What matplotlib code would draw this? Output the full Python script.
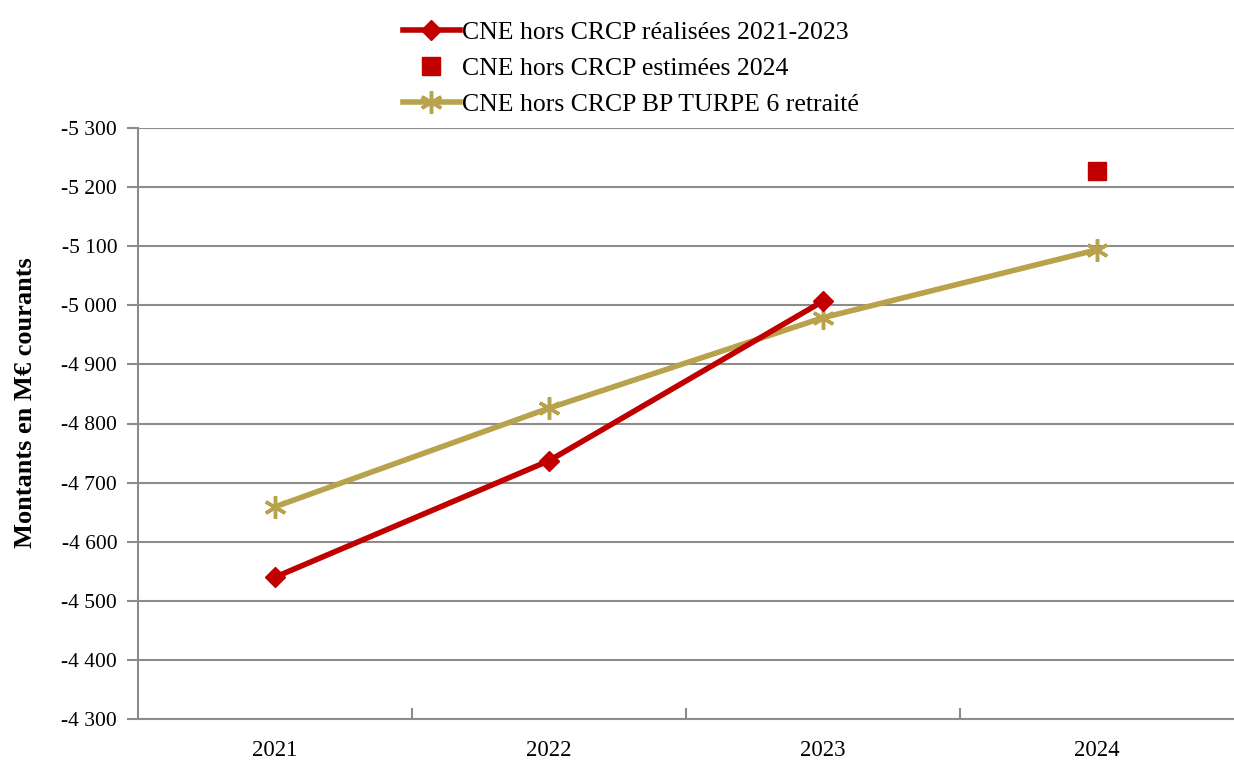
import matplotlib.pyplot as plt
from matplotlib.ticker import FuncFormatter, FixedLocator

# donnees
annees = ['2021', '2022', '2023', '2024']
realisees = [-4540, -4737, -5007]          # 2021-2023
estimee_2024 = [-5227]
bp_turpe = [-4659, -4826, -4979, -5094]
yticks = [-5300, -5200, -5100, -5000, -4900, -4800, -4700, -4600, -4500, -4400, -4300]

rouge = '#C00000'
or_ = '#B9A24C'

plt.rcParams['font.family'] = ['Liberation Serif', 'DejaVu Serif']

fig = plt.figure(figsize=(12.34, 7.6), dpi=100)
ax = fig.add_axes([138/1234, 1-719/760, 1-138/1234, (719-128)/760])

x = list(range(len(annees)))

# grille horizontale
for v in yticks:
    ax.axhline(v, color='#8c8c8c', linewidth=1.5, zorder=0)

ax.plot(x, bp_turpe, color=or_, linewidth=4, marker=(6, 2, 0), markersize=16,
        markeredgewidth=2.5, markeredgecolor=or_, label='CNE hors CRCP BP TURPE 6 retraité', zorder=3)
ax.plot(x[:3], realisees, color=rouge, linewidth=4, marker='D', markersize=10,
        label='CNE hors CRCP réalisées 2021-2023', zorder=4)
ax.plot(x[3:], estimee_2024, color=rouge, linestyle='none', marker='s', markersize=13,
        label='CNE hors CRCP estimées 2024', zorder=4)

ax.set_xlim(-0.5, 3.5)
ax.set_ylim(-4300, -5300)   # axe inverse
ax.yaxis.set_major_locator(FixedLocator(yticks))
ax.yaxis.set_major_formatter(FuncFormatter(lambda v, p: '{:,.0f}'.format(v).replace(',', ' ')))

ax.set_xticks(x)
ax.set_xticklabels(annees)
ax.set_xticks([0.5, 1.5, 2.5], minor=True)
ax.tick_params(axis='x', which='major', length=0, labelsize=16.5, pad=15)
ax.tick_params(axis='x', which='minor', direction='in', length=8, color='#8c8c8c', width=1.5)
ax.tick_params(axis='y', direction='out', length=8, color='#8c8c8c', width=1.5, labelsize=15.5, pad=7)

for s in ['top', 'right']:
    ax.spines[s].set_visible(False)
for s in ['left', 'bottom']:
    ax.spines[s].set_color('#8c8c8c')
    ax.spines[s].set_linewidth(1.5)

ax.set_ylabel('Montants en M€ courants', fontsize=19, fontweight='bold')
ax.yaxis.set_label_coords(-0.092, 0.535)

h, l = ax.get_legend_handles_labels()
ordre = [1, 2, 0]
ax.legend([h[i] for i in ordre], [l[i] for i in ordre], loc='lower center',
          bbox_to_anchor=(0.45, 0.99), frameon=False, fontsize=18.5,
          handlelength=2.2, handletextpad=0.1, labelspacing=0.5, borderpad=0.2)

fig.savefig('out.png', dpi=100)
